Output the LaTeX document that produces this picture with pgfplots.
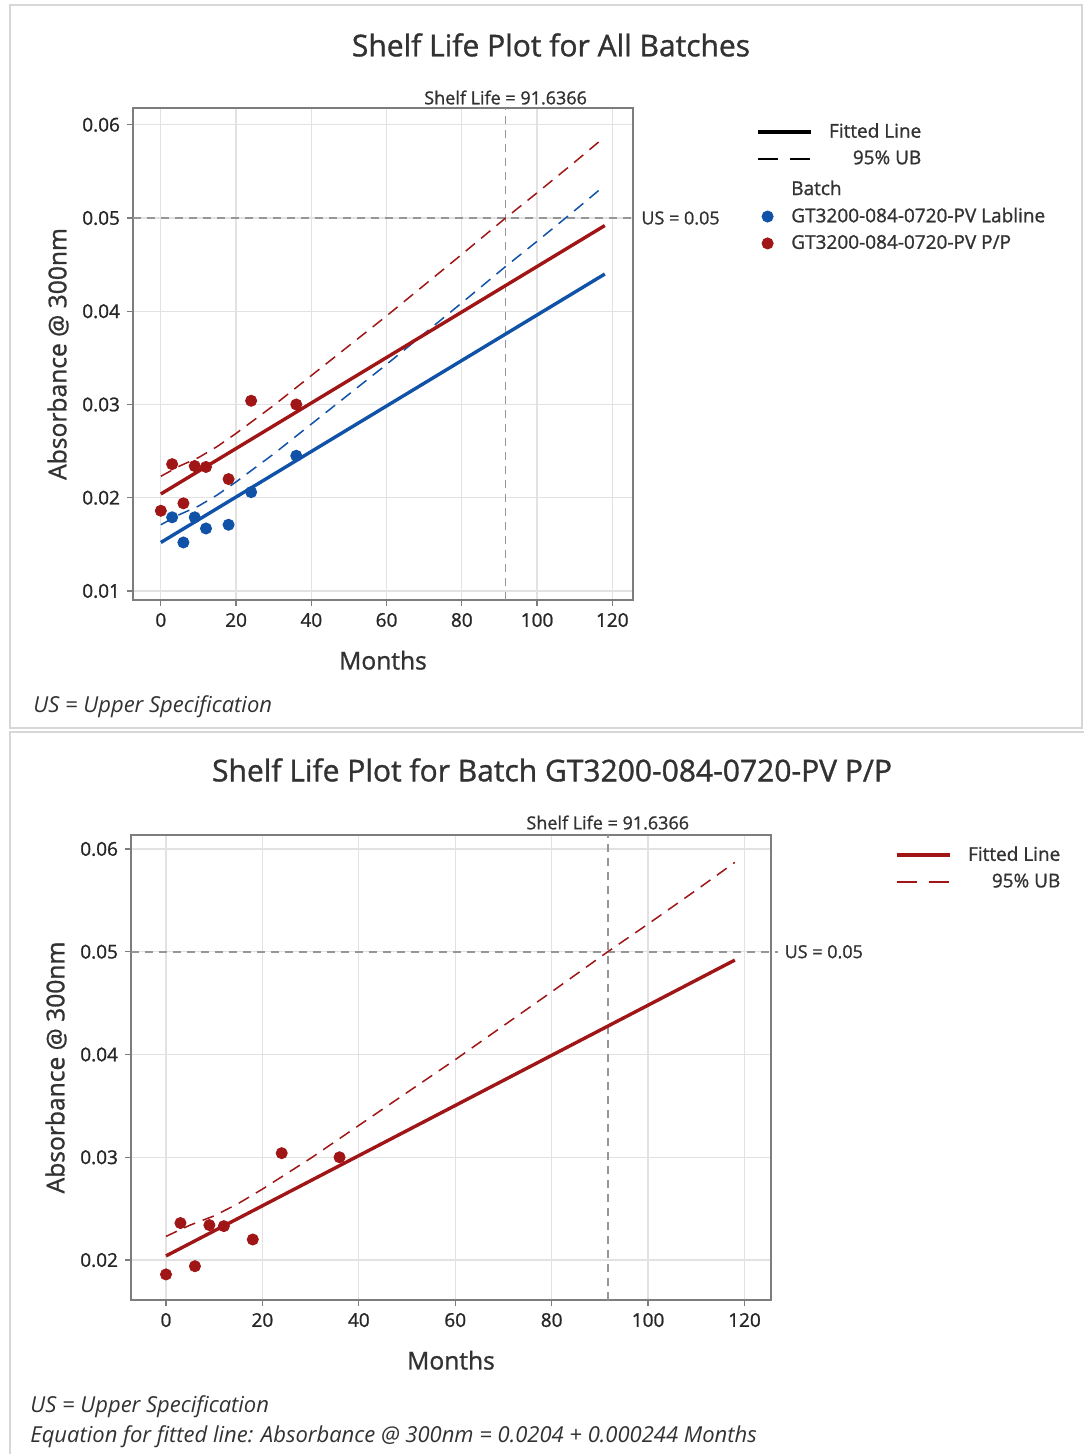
\documentclass[border=0pt]{standalone}
\usepackage{fontspec}
\setmainfont{Open Sans}[UprightFeatures={FakeBold=1.1}]
\usepackage{pgfplots}
\pgfplotsset{compat=1.18}
\definecolor{mred}{RGB}{160,22,22}
\definecolor{mblue}{RGB}{16,82,168}
\definecolor{framec}{RGB}{215,215,215}
\definecolor{boxc}{RGB}{125,125,125}
\definecolor{gridc}{RGB}{226,226,226}
\definecolor{refc}{RGB}{150,150,150}
\definecolor{txt}{RGB}{50,50,50}

\pgfplotstableread{
x y
0 0.0186
3 0.0236
6 0.0194
9 0.0234
12 0.0233
18 0.0220
24 0.0304
36 0.0300
}\pp
\pgfplotstableread{
x y
3 0.0179
6 0.0152
9 0.0179
12 0.0167
18 0.0171
24 0.0206
36 0.0245
}\lab
\pgfplotstableread{
x y
0 0.0223
5 0.0234
10 0.0243
15 0.0255
20 0.0269
30 0.0299
40 0.0331
50 0.0363
60 0.0395
70 0.0428
80 0.0461
91.64 0.0500
100 0.0527
110 0.0560
118 0.0587
}\ppub
\pgfplotstableread{
x y
0 0.0171
5 0.0182
10 0.0191
15 0.0203
20 0.0217
30 0.0247
40 0.0279
50 0.0311
60 0.0343
70 0.0376
80 0.0409
91.64 0.0448
100 0.0475
110 0.0508
118 0.0535
}\labub

\tikzset{reflab/.style={font=\fontsize{9}{10}\selectfont, text=txt, inner sep=1pt}}
\pgfplotsset{
  slstyle/.style={
    scale only axis,
    axis line style={boxc, line width=0.8pt},
    tick style={boxc, line width=0.6pt},
    tick align=outside,
    major tick length=3pt,
    tick pos=left,
    grid=major,
    major grid style={gridc, line width=0.6pt},
    xtick={0,20,40,60,80,100,120},
    ytick={0.01,0.02,0.03,0.04,0.05,0.06},
    yticklabel style={/pgf/number format/.cd, fixed, fixed zerofill, precision=2},
    scaled y ticks=false,
    /pgf/number format/assume math mode=true,
    ticklabel style={font=\fontsize{9.5}{10}\selectfont, text=black!85},
    label style={font=\fontsize{12.3}{14}\selectfont, text=txt},
    xlabel style={yshift=-5pt},
    xlabel={Months},
    ylabel={Absorbance @ 300nm},
    clip=false,
    legend image code/.code={\draw[##1] (0pt,0pt) -- (26.5pt,0pt);},
  },
  markleg/.style={legend image code/.code={\draw[##1] plot coordinates {(5pt,0pt)};}},
  fitline/.style={line width=1.7pt},
  ubline/.style={line width=0.75pt, dash pattern=on 6pt off 4pt},
  refline/.style={refc, line width=0.8pt, dash pattern=on 4pt off 3pt, forget plot},
}

\begin{document}
\begin{tikzpicture}
\useasboundingbox (0pt,0pt) rectangle (541.5pt,-727pt);
\fill[white] (0pt,0pt) rectangle (541.5pt,-727pt);
\draw[framec, line width=0.8pt] (5pt,-2.5pt) rectangle (541pt,-364pt);
\draw[framec, line width=0.8pt] (5pt,-366pt) rectangle (545pt,-730pt);

\node[font=\fontsize{15}{17}\selectfont, text=txt] at (275.5pt,-22.5pt) {Shelf Life Plot for All Batches};
\node[font=\itshape\fontsize{11}{12}\selectfont, text=txt, anchor=west, inner sep=0pt] at (16.5pt,-353.5pt) {US = Upper Specification};

\begin{axis}[slstyle,
  at={(66.5pt,-300pt)}, anchor=south west,
  width=250pt, height=246pt,
  xmin=-7.4, xmax=125.5, ymin=0.00903, ymax=0.0618,
  legend style={at={(axis description cs:1.245,0.978)}, anchor=north west, draw=none, fill=none,
    font=\fontsize{9.5}{10}\selectfont, text=txt, legend cell align=left, row sep=0.9pt, inner sep=0pt},
]
\addlegendimage{black, fitline}
\addlegendentry{\makebox[52.5pt][r]{Fitted Line}}
\addlegendimage{black, line width=1pt, dash pattern=on 10pt off 6pt}
\addlegendentry{\makebox[52.5pt][r]{95\% UB}}
\addlegendimage{empty legend}
\addlegendentry{\rule{0pt}{9pt}\hspace*{-12.5pt}Batch}
\addlegendimage{mblue, only marks, mark=*, mark size=2.8pt, markleg}
\addlegendentry{\hspace*{-12.5pt}GT3200-084-0720-PV Labline}
\addlegendimage{mred, only marks, mark=*, mark size=2.8pt, markleg}
\addlegendentry{\hspace*{-12.5pt}GT3200-084-0720-PV P/P}

\addplot[refline] coordinates {(91.6366,0.00903) (91.6366,0.0618)};
\addplot[refline] coordinates {(-7.4,0.05) (125.5,0.05)};
\addplot[mblue, ubline, forget plot] table[x=x,y=y] {\labub};
\addplot[mred, ubline, forget plot] table[x=x,y=y] {\ppub};
\addplot[mblue, fitline, forget plot] coordinates {(0,0.0152) (118,0.04399)};
\addplot[mred, fitline, forget plot] coordinates {(0,0.0204) (118,0.04919)};
\addplot[mblue, only marks, mark=*, mark size=2.8pt, forget plot] table[x=x,y=y] {\lab};
\addplot[mred, only marks, mark=*, mark size=2.8pt, forget plot] table[x=x,y=y] {\pp};
\node[reflab, anchor=south, yshift=0.5pt] at (axis cs:91.6366,0.0618) {Shelf Life = 91.6366};
\node[reflab, anchor=west] at (axis cs:125.5,0.05) {\hspace*{3pt}US = 0.05};
\end{axis}

\node[font=\fontsize{15}{17}\selectfont, text=txt] at (276pt,-385pt) {Shelf Life Plot for Batch GT3200-084-0720-PV P/P};
\node[font=\itshape\fontsize{11}{12}\selectfont, text=txt, anchor=west, inner sep=0pt] at (15pt,-703.5pt) {US = Upper Specification};
\node[font=\itshape\fontsize{11}{12}\selectfont, text=txt, anchor=west, inner sep=0pt] at (15pt,-718.5pt) {Equation for fitted line: Absorbance @ 300nm = 0.0204 + 0.000244 Months};

\begin{axis}[slstyle,
  at={(65.5pt,-650pt)}, anchor=south west,
  width=320pt, height=232.5pt,
  xmin=-7.26, xmax=125.5, ymin=0.01611, ymax=0.06136,
  ytick={0.02,0.03,0.04,0.05,0.06},
  legend style={at={(axis description cs:1.193,0.985)}, anchor=north west, draw=none, fill=none,
    font=\fontsize{9.5}{10}\selectfont, text=txt, legend cell align=left, row sep=0.9pt, inner sep=0pt},
]
\addlegendimage{mred, fitline}
\addlegendentry{\makebox[52.5pt][r]{Fitted Line}}
\addlegendimage{mred, line width=1pt, dash pattern=on 10pt off 6pt}
\addlegendentry{\makebox[52.5pt][r]{95\% UB}}

\addplot[refline] coordinates {(91.6366,0.01611) (91.6366,0.06136)};
\addplot[refline] coordinates {(-7.26,0.05) (127,0.05)};
\addplot[mred, ubline, forget plot] table[x=x,y=y] {\ppub};
\addplot[mred, fitline, forget plot] coordinates {(0,0.0204) (118,0.04919)};
\addplot[mred, only marks, mark=*, mark size=2.8pt, forget plot] table[x=x,y=y] {\pp};
\node[reflab, anchor=south, yshift=1.5pt] at (axis cs:91.6366,0.06136) {Shelf Life = 91.6366};
\node[reflab, anchor=west] at (axis cs:127,0.05) {\hspace*{2pt}US = 0.05};
\end{axis}
\end{tikzpicture}
\end{document}
